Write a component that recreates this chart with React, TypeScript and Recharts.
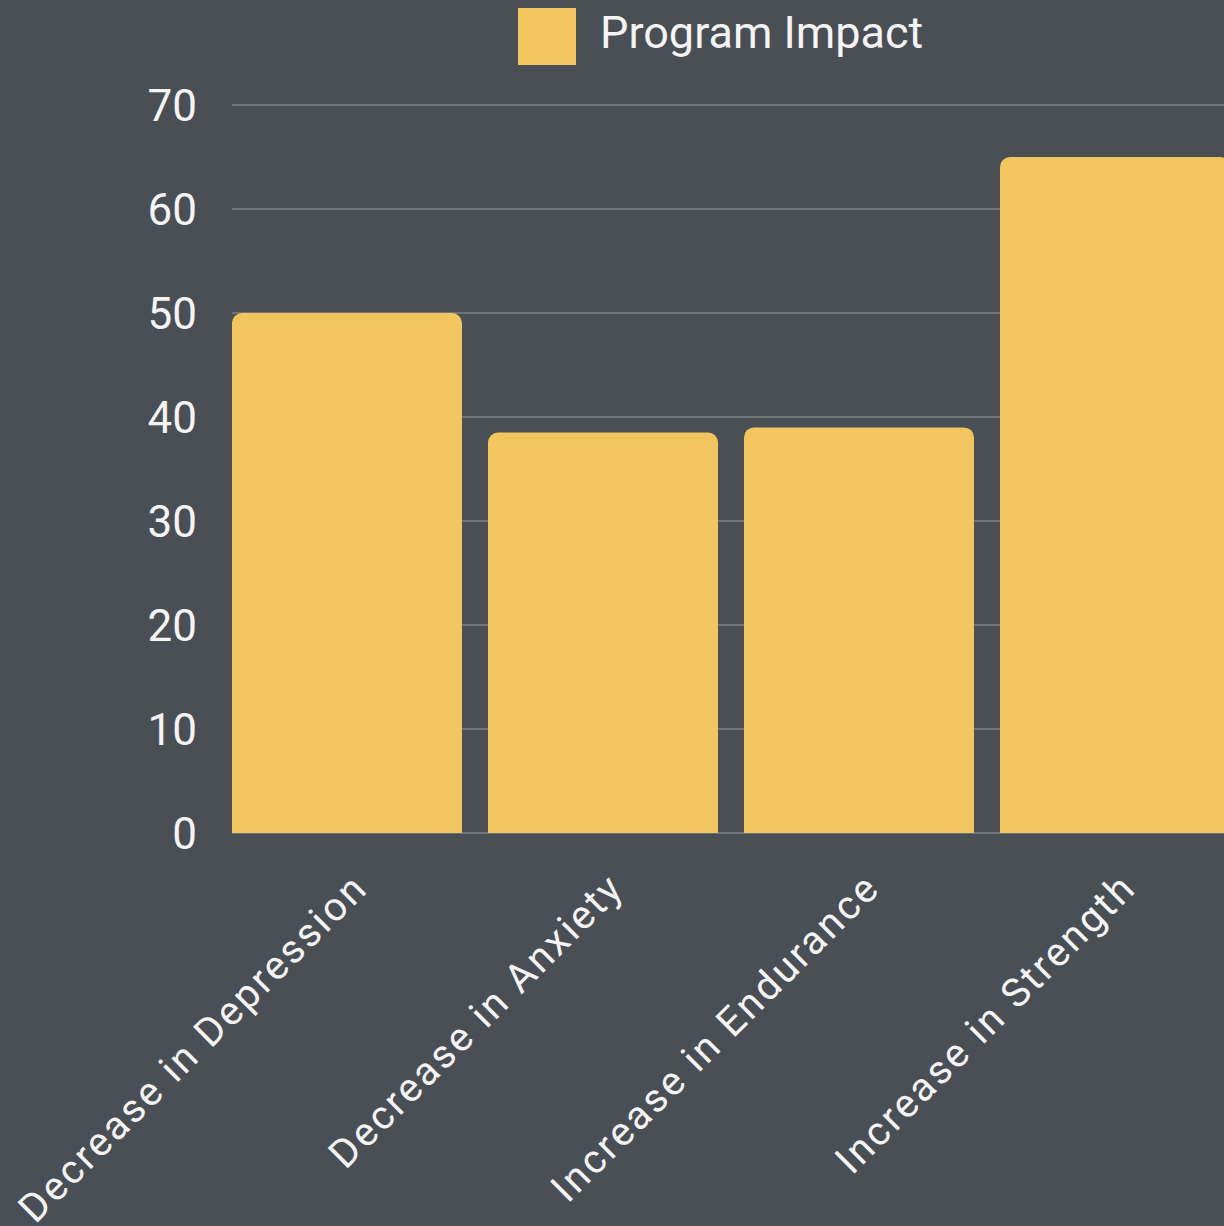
import { BarChart, Bar, XAxis, YAxis, CartesianGrid, Legend } from 'recharts'

const categories = ['Decrease in Depression', 'Decrease in Anxiety', 'Increase in Endurance', 'Increase in Strength']
const impact = [50, 38.5, 39, 65]
const yTicks = [0, 10, 20, 30, 40, 50, 60, 70]

const BG = '#4a4e55'
const BAR = '#f2c55f'
const GRID = '#6f737a'
const TEXT = '#f4f4f4'
const FONT = 'Roboto, sans-serif'

const data = categories.map((name, i) => ({ name, impact: impact[i] }))

function CategoryTick(props: any) {
  const { x, y, payload } = props
  return (
    <g transform={`translate(${x + 23},${y})`}>
      <text
        textAnchor="end"
        transform="rotate(-45)"
        fill={TEXT}
        fontSize={40}
        letterSpacing={2.5}
        fontFamily={FONT}
      >
        {payload.value}
      </text>
    </g>
  )
}

function GridLine(props: any) {
  const { x1, x2, y1, y2 } = props
  return <line x1={x1 + 13} x2={x2} y1={y1} y2={y2} stroke={GRID} strokeWidth={2} />
}

function LegendBox(props: any) {
  const { payload } = props
  return (
    <div style={{ display: 'flex', alignItems: 'center' }}>
      {(payload || []).map((p: any) => (
        <div key={p.value} style={{ display: 'flex', alignItems: 'center' }}>
          <div style={{ width: 58, height: 57, background: BAR, marginRight: 24 }} />
          <span style={{ color: TEXT, fontSize: 45, fontFamily: FONT, position: 'relative', top: -4 }}>{p.value}</span>
        </div>
      ))}
    </div>
  )
}

export default function App() {
  return (
    <div style={{ position: 'absolute', left: 0, top: 0, width: 1224, height: 1226, overflow: 'hidden', background: BG }}>
      <BarChart
        width={1250}
        height={1226}
        data={data}
        margin={{ top: 0, right: 7, bottom: 0, left: 0 }}
        barCategoryGap={13}
      >
        <Legend
          verticalAlign="top"
          height={105}
          content={<LegendBox />}
          wrapperStyle={{ left: 518, top: 8, width: 'auto' }}
        />
        <CartesianGrid vertical={false} horizontal={<GridLine />} />
        <XAxis
          dataKey="name"
          height={393}
          axisLine={false}
          tickLine={false}
          tickSize={0}
          tickMargin={57}
          interval={0}
          tick={<CategoryTick />}
        />
        <YAxis
          width={219}
          domain={[0, 70]}
          ticks={yTicks}
          axisLine={false}
          tickLine={false}
          tickSize={0}
          tickMargin={22}
          tick={{ fill: TEXT, fontSize: 44, fontFamily: FONT }}
        />
        <Bar dataKey="impact" name="Program Impact" fill={BAR} radius={[10, 10, 0, 0]} isAnimationActive={false} />
      </BarChart>
    </div>
  )
}
